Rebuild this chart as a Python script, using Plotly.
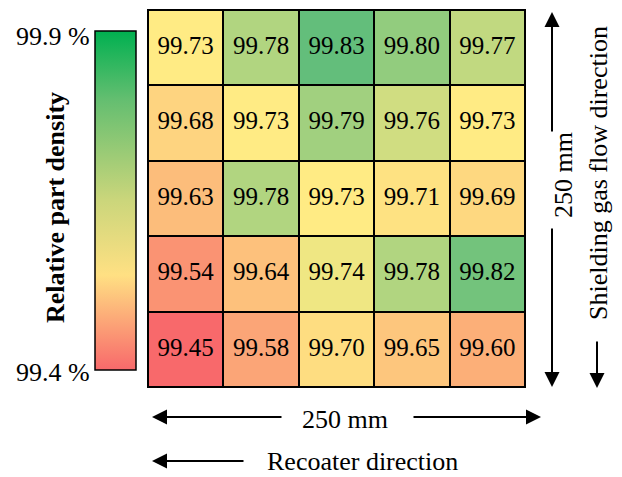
import plotly.graph_objects as go

# Data (rows top to bottom, columns left to right)
density = [
    [99.73, 99.78, 99.83, 99.80, 99.77],
    [99.68, 99.73, 99.79, 99.76, 99.73],
    [99.63, 99.78, 99.73, 99.71, 99.69],
    [99.54, 99.64, 99.74, 99.78, 99.82],
    [99.45, 99.58, 99.70, 99.65, 99.60],
]
cols = [0, 1, 2, 3, 4]
rows = [0, 1, 2, 3, 4]
cbar_min, cbar_max = 99.4, 99.9
cbar_labels = ["99.9 %", "99.4 %"]

W, H = 622, 477
L, R, T, B = 148, 97, 10, 90
PW, PH = W - L - R, H - T - B
FONT = "Liberation Serif"


def px(x):
    return (x - L) / PW


def py(y):
    return (T + PH - y) / PH


zmin, zmax, zmid = 99.45, 99.83, 99.73
m = (zmid - zmin) / (zmax - zmin)
cell_scale = [[0, "#F8696B"], [m, "#FFEB84"], [1, "#63BE7B"]]
bar_scale = [[0, "#F8696B"], [0.28, "#FFE083"], [0.5, "#CBD67B"],
             [0.8, "#63BE70"], [1, "#00B050"]]

fig = go.Figure()
fig.add_trace(go.Heatmap(
    z=density, x=cols, y=rows,
    colorscale=cell_scale, zmin=zmin, zmax=zmax, showscale=False,
    xgap=2, ygap=2, hoverinfo="skip",
))
# cell labels
tx, ty, tt = [], [], []
for r, row in zip(rows, density):
    for c, v in zip(cols, row):
        tx.append(c)
        ty.append(r)
        tt.append(f"{v:.2f}")
fig.add_trace(go.Scatter(
    x=tx, y=ty, text=tt, mode="text", showlegend=False,
    textposition="middle center",
    textfont=dict(size=25, color="black", family=FONT),
    hoverinfo="skip",
))
fig.add_trace(go.Scatter(
    x=[None], y=[None], mode="markers", showlegend=False,
    marker=dict(color=[cbar_min], cmin=cbar_min, cmax=cbar_max,
                colorscale=bar_scale, showscale=True,
                colorbar=dict(
                    x=px(95), xanchor="left", xpad=0, ypad=0,
                    y=py(200.5), yanchor="middle",
                    len=339, lenmode="pixels", thickness=41,
                    thicknessmode="pixels",
                    outlinecolor="black", outlinewidth=1.5,
                    showticklabels=False, ticks="",
                )),
))

ann = []


def text(t, x, y, angle=0, xanchor="center", bold=False):
    ann.append(dict(
        text=f"<b>{t}</b>" if bold else t, x=px(x), y=py(y),
        xref="paper", yref="paper", showarrow=False, textangle=angle,
        xanchor=xanchor, yanchor="middle",
        font=dict(size=26, color="black", family=FONT)))


def arrow(x, y, ax, ay):
    ann.append(dict(
        text="", x=px(x), y=py(y), xref="paper", yref="paper",
        ax=ax, ay=ay, axref="pixel", ayref="pixel", showarrow=True,
        arrowhead=2, arrowsize=1.5, arrowwidth=2, arrowcolor="black"))


text(cbar_labels[0], 92, 37, xanchor="right")
text(cbar_labels[1], 92, 372, xanchor="right")
text("Relative part density", 56, 208, angle=-90, bold=True)
text("250 mm", 345, 419)
text("Recoater direction", 362, 461)
text("250 mm", 563, 175, angle=-90)
text("Shielding gas flow direction", 598, 173, angle=-90)

arrow(552, 12, 0, 121)
arrow(552, 387, 0, -160)
arrow(597, 388, 0, -48)
arrow(152, 417, 131, 0)
arrow(541, 417, -129, 0)
arrow(152, 461, 93, 0)

fig.update_layout(
    width=W, height=H,
    margin=dict(l=L, r=R, t=T, b=B),
    font=dict(family=FONT, size=26, color="black"),
    paper_bgcolor="white", plot_bgcolor="black",
    xaxis=dict(range=[-0.5, 4.5], showticklabels=False, showgrid=False,
               zeroline=False, ticks=""),
    yaxis=dict(range=[4.5, -0.5], showticklabels=False, showgrid=False,
               zeroline=False, ticks=""),
    annotations=ann,
    shapes=[dict(type="rect", xref="paper", yref="paper", x0=0, y0=0,
                 x1=1, y1=1, line=dict(color="black", width=2))],
    showlegend=False,
)

fig.write_html("out.html",
               config={"displayModeBar": False, "staticPlot": True},
               post_script="document.body.style.margin='0';"
                           "document.body.style.overflow='hidden';")
